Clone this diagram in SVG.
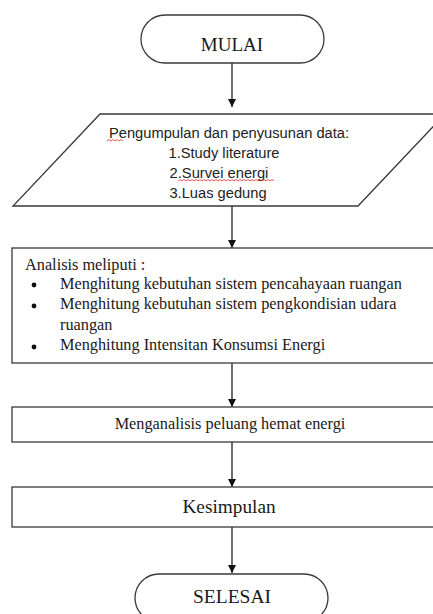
<svg xmlns="http://www.w3.org/2000/svg" width="433" height="614" viewBox="0 0 433 614">
<style>
.shape{fill:#fff;stroke:#3a3a3a;stroke-width:1.3}
.serif{font-family:"Liberation Serif","Times New Roman",serif;fill:#1a1a1a}
.body{font-size:16.3px}
.sans{font-family:"Liberation Sans",Arial,sans-serif;fill:#222;font-size:14.7px}
.conn{stroke:#222;stroke-width:1.3;fill:none}
.squig{stroke:#e03030;stroke-width:0.8;fill:none}
</style>
<defs>
<marker id="arr" markerUnits="userSpaceOnUse" markerWidth="10" markerHeight="10" refX="8" refY="4" orient="auto">
<path d="M0,0 L8,4 L0,8 Z" fill="#111"/>
</marker>
</defs>
<rect width="433" height="614" fill="#fff"/>
<g id="connectors">
<line class="conn" x1="232" y1="63" x2="232" y2="107" marker-end="url(#arr)"/>
<line class="conn" x1="233" y1="114" x2="233" y2="125" style="stroke-width:1.6"/>
<line class="conn" x1="232" y1="206" x2="232" y2="248" marker-end="url(#arr)"/>
<line class="conn" x1="232" y1="363" x2="232" y2="407" marker-end="url(#arr)"/>
<line class="conn" x1="232" y1="442" x2="232" y2="487" marker-end="url(#arr)"/>
<line class="conn" x1="232" y1="527" x2="232" y2="573" marker-end="url(#arr)"/>
</g>
<g id="mulai">
<rect class="shape" x="141" y="15" width="183" height="48" rx="24" ry="24"/>
<text class="serif" x="232" y="51" font-size="19" text-anchor="middle">MULAI</text>
</g>
<g id="pengumpulan">
<polygon class="shape" points="100,114 445,114 358,206 13,206"/>
<text class="sans" x="229" y="138" text-anchor="middle">Pengumpulan dan penyusunan data:</text>
<text class="sans" x="224" y="158" text-anchor="middle">1.Study literature</text>
<text class="sans" x="219" y="178" text-anchor="middle">2.Survei energi</text>
<text class="sans" x="218" y="198" text-anchor="middle">3.Luas gedung</text>
<path class="squig" d="M107,141 l2,-1.5 l2,1.5 l2,-1.5 l2,1.5 l2,-1.5 l2,1.5 l2,-1.5 l2,1.5"/>
<path class="squig" d="M178,181 l2,-1.5 l2,1.5 l2,-1.5 l2,1.5 l2,-1.5 l2,1.5 l2,-1.5 l2,1.5 l2,-1.5 l2,1.5 l2,-1.5 l2,1.5 l2,-1.5 l2,1.5 l2,-1.5 l2,1.5 l2,-1.5 l2,1.5 l2,-1.5 l2,1.5 l2,-1.5 l2,1.5 l2,-1.5 l2,1.5 l2,-1.5 l2,1.5 l2,-1.5 l2,1.5 l2,-1.5 l2,1.5 l2,-1.5 l2,1.5 l2,-1.5 l2,1.5 l2,-1.5 l2,1.5 l2,-1.5 l2,1.5 l2,-1.5 l2,1.5 l2,-1.5 l2,1.5 l2,-1.5 l2,1.5 l2,-1.5 l2,1.5 l2,-1.5 l2,1.5"/>
</g>
<g id="analisis">
<rect class="shape" x="12" y="248" width="430" height="115"/>
<text class="serif body" x="25" y="270">Analisis meliputi :</text>
<circle cx="34" cy="285" r="2.4" fill="#111"/>
<circle cx="34" cy="306" r="2.4" fill="#111"/>
<circle cx="34" cy="347" r="2.4" fill="#111"/>
<text class="serif body" x="60" y="289">Menghitung kebutuhan sistem pencahayaan ruangan</text>
<text class="serif body" x="60" y="309">Menghitung kebutuhan sistem pengkondisian udara</text>
<text class="serif body" x="60" y="330">ruangan</text>
<text class="serif body" x="60" y="350">Menghitung Intensitan Konsumsi Energi</text>
</g>
<g id="menganalisis">
<rect class="shape" x="12" y="407" width="430" height="35"/>
<text class="serif body" x="230" y="429" text-anchor="middle">Menganalisis peluang hemat energi</text>
</g>
<g id="kesimpulan">
<rect class="shape" x="12" y="487" width="430" height="40"/>
<text class="serif" font-size="19.3" x="229" y="513" text-anchor="middle">Kesimpulan</text>
</g>
<g id="selesai">
<rect class="shape" x="135" y="574" width="193" height="48" rx="24" ry="24"/>
<text class="serif" x="232" y="603" font-size="19.5" text-anchor="middle">SELESAI</text>
</g>
</svg>
